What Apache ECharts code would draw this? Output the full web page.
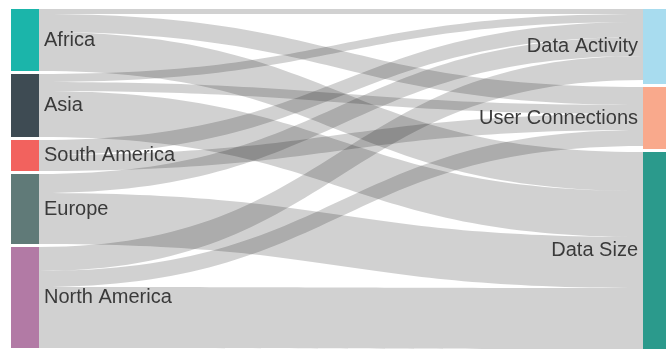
<!DOCTYPE html>
<html><head><meta charset="utf-8">
<script src="https://cdn.jsdelivr.net/npm/echarts@6/dist/echarts.min.js"></script>
<style>html,body{margin:0;padding:0;background:#fff}#c{width:666px;height:349px}</style>
</head><body><div id="c"></div>
<script>
const sources = ['Africa', 'Asia', 'South America', 'Europe', 'North America'];
const targets = ['Data Activity', 'User Connections', 'Data Size'];
// link values from each source (same order as sources) to each target
const toDataActivity = [5, 8, 15, 19, 24];
const toUserConnections = [18, 9, 16, 0, 16];
const toDataSize = [39, 46, 0, 51, 61];
// node totals of the targets as drawn (bars a little taller than their links)
const targetTotals = [75, 62, 197];

const sourceColors = ['#1bb5aa', '#3e4b53', '#f2625e', '#607a78', '#b27aa5'];
const targetColors = ['#a8dcef', '#f9a98c', '#2b9a8c'];

const nodes = sources.map((n, i) => ({ name: n, itemStyle: { color: sourceColors[i] } }))
  .concat(targets.map((n, i) => ({ name: n, value: targetTotals[i], itemStyle: { color: targetColors[i] } })));

const perTarget = [toDataActivity, toUserConnections, toDataSize];
const links = [];
sources.forEach((s, i) => {
  perTarget.forEach((arr, j) => {
    if (arr[i] > 0) links.push({ source: s, target: targets[j], value: arr[i] });
  });
});

const chart = echarts.init(document.getElementById('c'), null, { renderer: 'canvas' });
chart.setOption({
  animation: false,
  series: [{
    type: 'sankey',
    left: 11,
    right: -5,
    top: 9,
    bottom: 0,
    nodeWidth: 28,
    nodeGap: 3,
    layoutIterations: 0,
    draggable: false,
    data: nodes,
    links: links,
    itemStyle: { borderWidth: 0 },
    lineStyle: { color: '#000', opacity: 0.18, curveness: 0.5 },
    label: {
      fontFamily: 'Liberation Sans, Arial, sans-serif',
      fontSize: 20,
      color: '#3a3a3a',
      distance: 5
    },
    levels: [
      { depth: 0, label: { position: 'right' } },
      { depth: 1, label: { position: 'left' } }
    ],
    emphasis: { disabled: true }
  }]
});
</script>
</body></html>
